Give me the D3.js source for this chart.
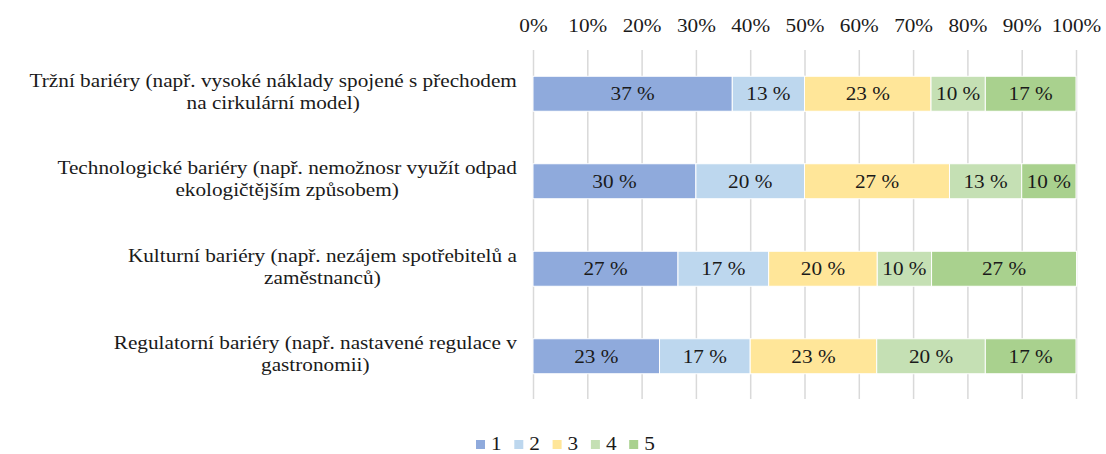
<!DOCTYPE html>
<html>
<head>
<meta charset="utf-8">
<script src="https://cdn.jsdelivr.net/npm/d3@7"></script>
<style>
  body { margin: 0; background: #fff; }
  svg text { font-family: "Liberation Serif", "Times New Roman", "DejaVu Serif", serif; fill: #1a1a1a; }
</style>
</head>
<body>
<svg id="chart" font-family="Liberation Serif"></svg>
<script>
// categories (each split into the two lines shown)
let categories = [
    ["Tržní bariéry (např. vysoké náklady spojené s přechodem", "na cirkulární model)"],
    ["Technologické bariéry (např. nemožnosr využít odpad", "ekologičtějším způsobem)"],
    ["Kulturní bariéry (např. nezájem spotřebitelů a", "zaměstnanců)"],
    ["Regulatorní bariéry (např. nastavené regulace v", "gastronomii)"]
];
let seriesNames = ["1", "2", "3", "4", "5"];
// shares in %, one array per rating
let s1 = [36.7, 30.0, 26.7, 23.3];
let s2 = [13.3, 20.0, 16.7, 16.7];
let s3 = [23.3, 26.7, 20.0, 23.3];
let s4 = [10.0, 13.3, 10.0, 20.0];
let s5 = [16.7, 10.0, 26.7, 16.7];
let tickValues = [0, 10, 20, 30, 40, 50, 60, 70, 80, 90, 100];
let colors = ["#8faadc", "#bdd7ee", "#ffe699", "#c5e0b4", "#a9d18e"];

let width = 1106, height = 454;
let fontSize = 18;
let stretch = 1.18; // the original text is a bit wider than tall

let svg = d3.select('#chart').attr('width', width).attr('height', height);

let table = categories.map(function (c, i) {
    return {idx: i, "1": s1[i], "2": s2[i], "3": s3[i], "4": s4[i], "5": s5[i]};
});

let x = d3.scaleLinear().domain([0, 100]).range([533, 1076]);
let y = d3.scaleBand().domain(categories.map((c, i) => i)).range([50, 400])
    .paddingInner(0.6).paddingOuter(0.3);
let color = d3.scaleOrdinal().domain(seriesNames).range(colors);

// axis on top with gridlines running down
let xAxis = d3.axisTop(x).tickValues(tickValues).tickFormat(d => d + '%')
    .tickSize(-349).tickPadding(18);
let gx = svg.append('g').attr('transform', 'translate(0,50)').call(xAxis);
gx.select('.domain').remove();
gx.attr('font-family', null).attr('font-size', null);
gx.selectAll('.tick line').attr('stroke', '#d9d9d9').attr('stroke-width', 1.5);
gx.selectAll('.tick text').attr('font-size', fontSize).attr('fill', '#1a1a1a')
    .attr('transform', 'scale(' + stretch + ',1)');

let stacked = d3.stack().keys(seriesNames)(table);

let layers = svg.selectAll('.layer').data(stacked).enter().append('g')
    .attr('class', 'layer')
    .attr('fill', d => color(d.key));

layers.selectAll('rect').data(d => d).enter().append('rect')
    .attr('x', d => x(d[0]))
    .attr('y', d => y(d.data.idx))
    .attr('width', d => x(d[1]) - x(d[0]))
    .attr('height', y.bandwidth())
    .attr('stroke', '#fff')
    .attr('stroke-width', 1);

svg.selectAll('.valgroup').data(stacked).enter().append('g').attr('class', 'valgroup')
    .selectAll('text').data(d => d).enter().append('text')
    .attr('transform', d => 'translate(' + (x(d[0]) + x(d[1])) / 2 + ',' +
        (y(d.data.idx) + y.bandwidth() / 2) + ') scale(' + stretch + ',1)')
    .attr('dy', '.35em')
    .attr('text-anchor', 'middle')
    .attr('font-size', fontSize)
    .text(d => d3.format('.0f')(d[1] - d[0]) + ' %');

// category labels: block right-aligned, lines centred in it
let labels = svg.selectAll('.cat').data(categories).enter().append('g').attr('class', 'cat');
labels.each(function (lines, i) {
    let g = d3.select(this);
    let t = g.selectAll('text').data(lines).enter().append('text')
        .attr('font-size', fontSize)
        .attr('text-anchor', 'middle')
        .text(d => d);
    let w = d3.max(t.nodes(), n => n.getComputedTextLength()) * stretch;
    t.attr('transform', (d, j) => 'translate(' + (517 - w / 2) + ',' +
        (y(i) + y.bandwidth() / 2 + (j === 0 ? -7 : 15)) + ') scale(' + stretch + ',1)');
});

// legend
let legend = svg.selectAll('.legend').data(seriesNames).enter().append('g')
    .attr('class', 'legend')
    .attr('transform', (d, i) => 'translate(' + (476 + i * 38.3) + ',440)');
legend.append('rect').attr('width', 9).attr('height', 9).attr('fill', d => color(d));
legend.append('text').attr('transform', 'translate(15,9.5) scale(' + stretch + ',1)')
    .attr('font-size', fontSize).text(d => d);
</script>
</body>
</html>
